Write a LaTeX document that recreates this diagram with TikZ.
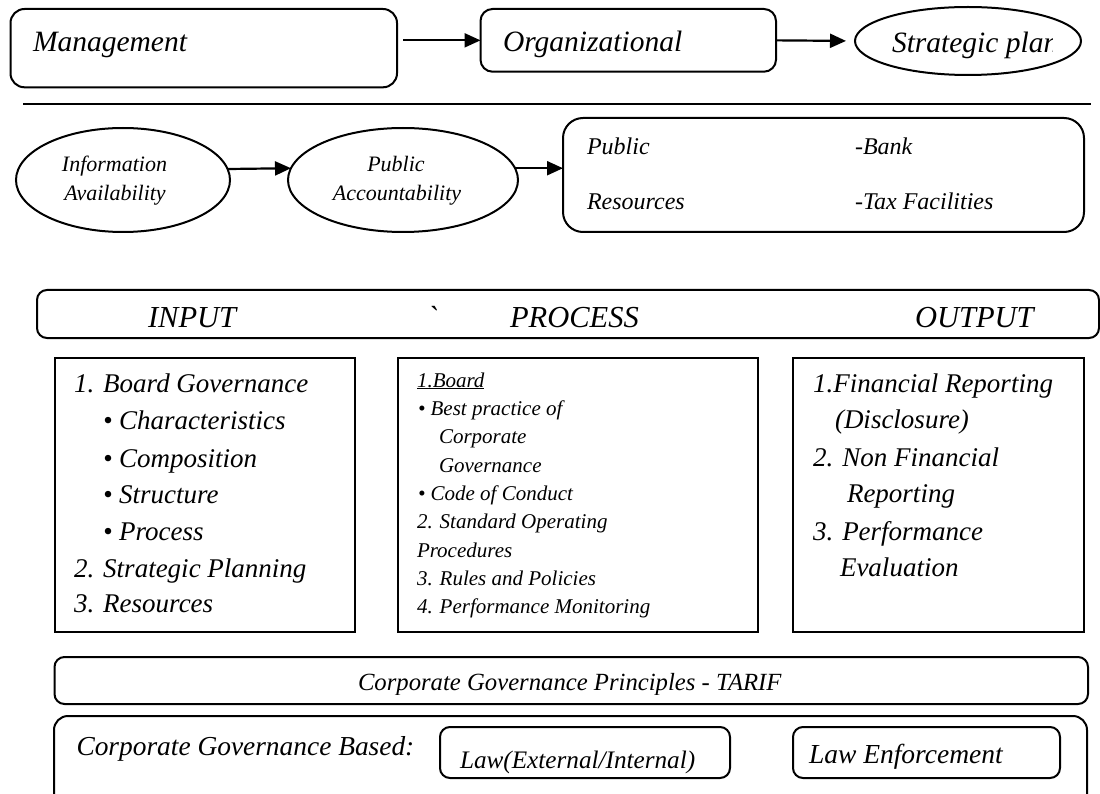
\documentclass[tikz,border=0pt]{standalone}
\usepackage{fontspec}
\setmainfont{Liberation Serif}[ItalicFont={Liberation Serif Italic}]
\usetikzlibrary{shapes.geometric,arrows.meta}
\begin{document}
\begin{tikzpicture}[x=1pt,y=-1pt,
  box/.style={draw, line width=2pt, inner sep=0pt, outer sep=0pt},
  rbox/.style={box, rounded corners=#1},
  ell/.style={draw, ellipse, line width=2pt, inner sep=0pt, outer sep=0pt},
  arr/.style={line width=2.2pt, -{Triangle[length=16pt,width=14pt]}},
  tx/.style={inner sep=0pt, outer sep=0pt, anchor=base west,
             font=\rmfamily\itshape\fontsize{#1}{#1}\selectfont},
  tc/.style={tx=#1, anchor=base}]
\useasboundingbox (0,0) rectangle (1100,794);
\clip (0,0) rectangle (1100,794);

% ---- top row: management -> organizational -> strategic plan
\node[rbox=14pt, minimum width=386.5pt, minimum height=78.3pt] (mgmt) at (203.75,48.15) {};
\node[tx=29.5] (mgmttxt) at (33,52) {Management};
\node[rbox=12pt, minimum width=295.5pt, minimum height=62.7pt] (org) at (628.25,40.35) {};
\node[tx=29.5] (orgtxt) at (503,52) {Organizational};
\node[ell, minimum width=226pt, minimum height=68pt] (plan) at (968,41) {};
\begin{scope}
  \clip (855,0) rectangle (1052,80);
  \node[tx=29.5] (plantxt) at (892,53) {Strategic plan};
\end{scope}
\draw[arr, shorten <=6pt] (org.west -| mgmt.east) -- (org.west);
\draw[arr, shorten >=9pt] (org.east) -- (plan.west);

% separator
\draw[line width=2pt] (23,104) -- (1091,104);

% ---- second row
\node[ell, minimum width=214pt, minimum height=104pt] (info) at (123,180) {};
\node[tc=22] (info1) at (114.5,171.7) {Information};
\node[tc=22] (info2) at (115,200.7) {Availability};
\node[ell, minimum width=230pt, minimum height=104pt] (pubacc) at (403,180) {};
\node[tc=22] (pa1) at (396,171.7) {Public};
\node[tc=22] (pa2) at (397,200.7) {Accountability};
\node[rbox=20pt, minimum width=521pt, minimum height=114pt] (resbox) at (823.5,175) {};
\node[tx=24] (res1) at (587,155) {Public};
\node[tx=24] (res2) at (587,210) {Resources};
\node[tx=24] (res3) at (855,155) {-Bank};
\node[tx=24] (res4) at (855,210) {-Tax Facilities};
\draw[arr] (info.6) -- (pubacc.174);
\draw[arr] (pubacc.6) -- (pubacc.6 -| resbox.west);

% ---- input / process / output banner
\node[rbox=10pt, minimum width=1062pt, minimum height=48pt] (banner) at (568,314) {};
\node[tx=30.5] (bin) at (148,327) {INPUT};
\node[tx=30.5] (bgrave) at (427,327) {\textasciigrave};
\node[tx=30.5] (bproc) at (510,327) {PROCESS};
\node[tx=30.5] (bout) at (915,327) {OUTPUT};

% ---- input box
\node[box, minimum width=300.5pt, minimum height=274pt] (inbox) at (204.75,495) {};
\node[tx=27] (in1) at (74,392.7) {1. Board Governance};
\node[tx=27] (in2) at (103,429) {• Characteristics};
\node[tx=27] (in3) at (103,467) {• Composition};
\node[tx=27] (in4) at (103,503) {• Structure};
\node[tx=27] (in5) at (103,540) {• Process};
\node[tx=27] (in6) at (74,577) {2. Strategic Planning};
\node[tx=27] (in7) at (74,612) {3. Resources};

% ---- process box
\node[box, minimum width=360pt, minimum height=274pt] (procbox) at (577.5,495) {};
\node[tx=21] (pr1) at (417,387) {\underline{1.Board}};
\node[tx=21] (pr2) at (418,415) {• Best practice of};
\node[tx=21] (pr3) at (439,443) {Corporate};
\node[tx=21] (pr4) at (439,472) {Governance};
\node[tx=21] (pr5) at (418,500) {• Code of Conduct};
\node[tx=21] (pr6) at (417,528) {2. Standard Operating};
\node[tx=21] (pr7) at (417,557) {Procedures};
\node[tx=21] (pr8) at (417,585) {3. Rules and Policies};
\node[tx=21] (pr9) at (417,613) {4. Performance Monitoring};

% ---- output box
\node[box, minimum width=291pt, minimum height=274pt] (outbox) at (938.5,495) {};
\node[tx=27] (ou1) at (813,392) {1.Financial Reporting};
\node[tx=27] (ou2) at (835,428) {(Disclosure)};
\node[tx=27] (ou3) at (813,466) {2. Non Financial};
\node[tx=27] (ou4) at (847,502) {Reporting};
\node[tx=27] (ou5) at (813,540) {3. Performance};
\node[tx=27] (ou6) at (840,576) {Evaluation};

% ---- principles
\node[rbox=10pt, minimum width=1033.5pt, minimum height=47pt] (tarif) at (571.25,680.5) {};
\begin{scope}
  \clip (54,657) rectangle (1088,694.5);
  \node[tx=24.7] (tariftxt) at (358,690) {Corporate Governance Principles - TARIF};
\end{scope}

% ---- basis
\node[rbox=14pt, minimum width=1033pt, minimum height=114pt] (basebox) at (570.5,773) {};
\node[tx=27.4] (basetxt) at (76.5,755) {Corporate Governance Based:};
\node[rbox=10pt, minimum width=290pt, minimum height=51pt] (lawbox) at (585,752.5) {};
\node[tx=25.2] (lawtxt) at (460,768) {Law(External/Internal)};
\node[rbox=10pt, minimum width=267pt, minimum height=51pt] (enfbox) at (926.5,752.5) {};
\node[tx=27.5] (enftxt) at (809,763) {Law Enforcement};
\end{tikzpicture}
\end{document}
